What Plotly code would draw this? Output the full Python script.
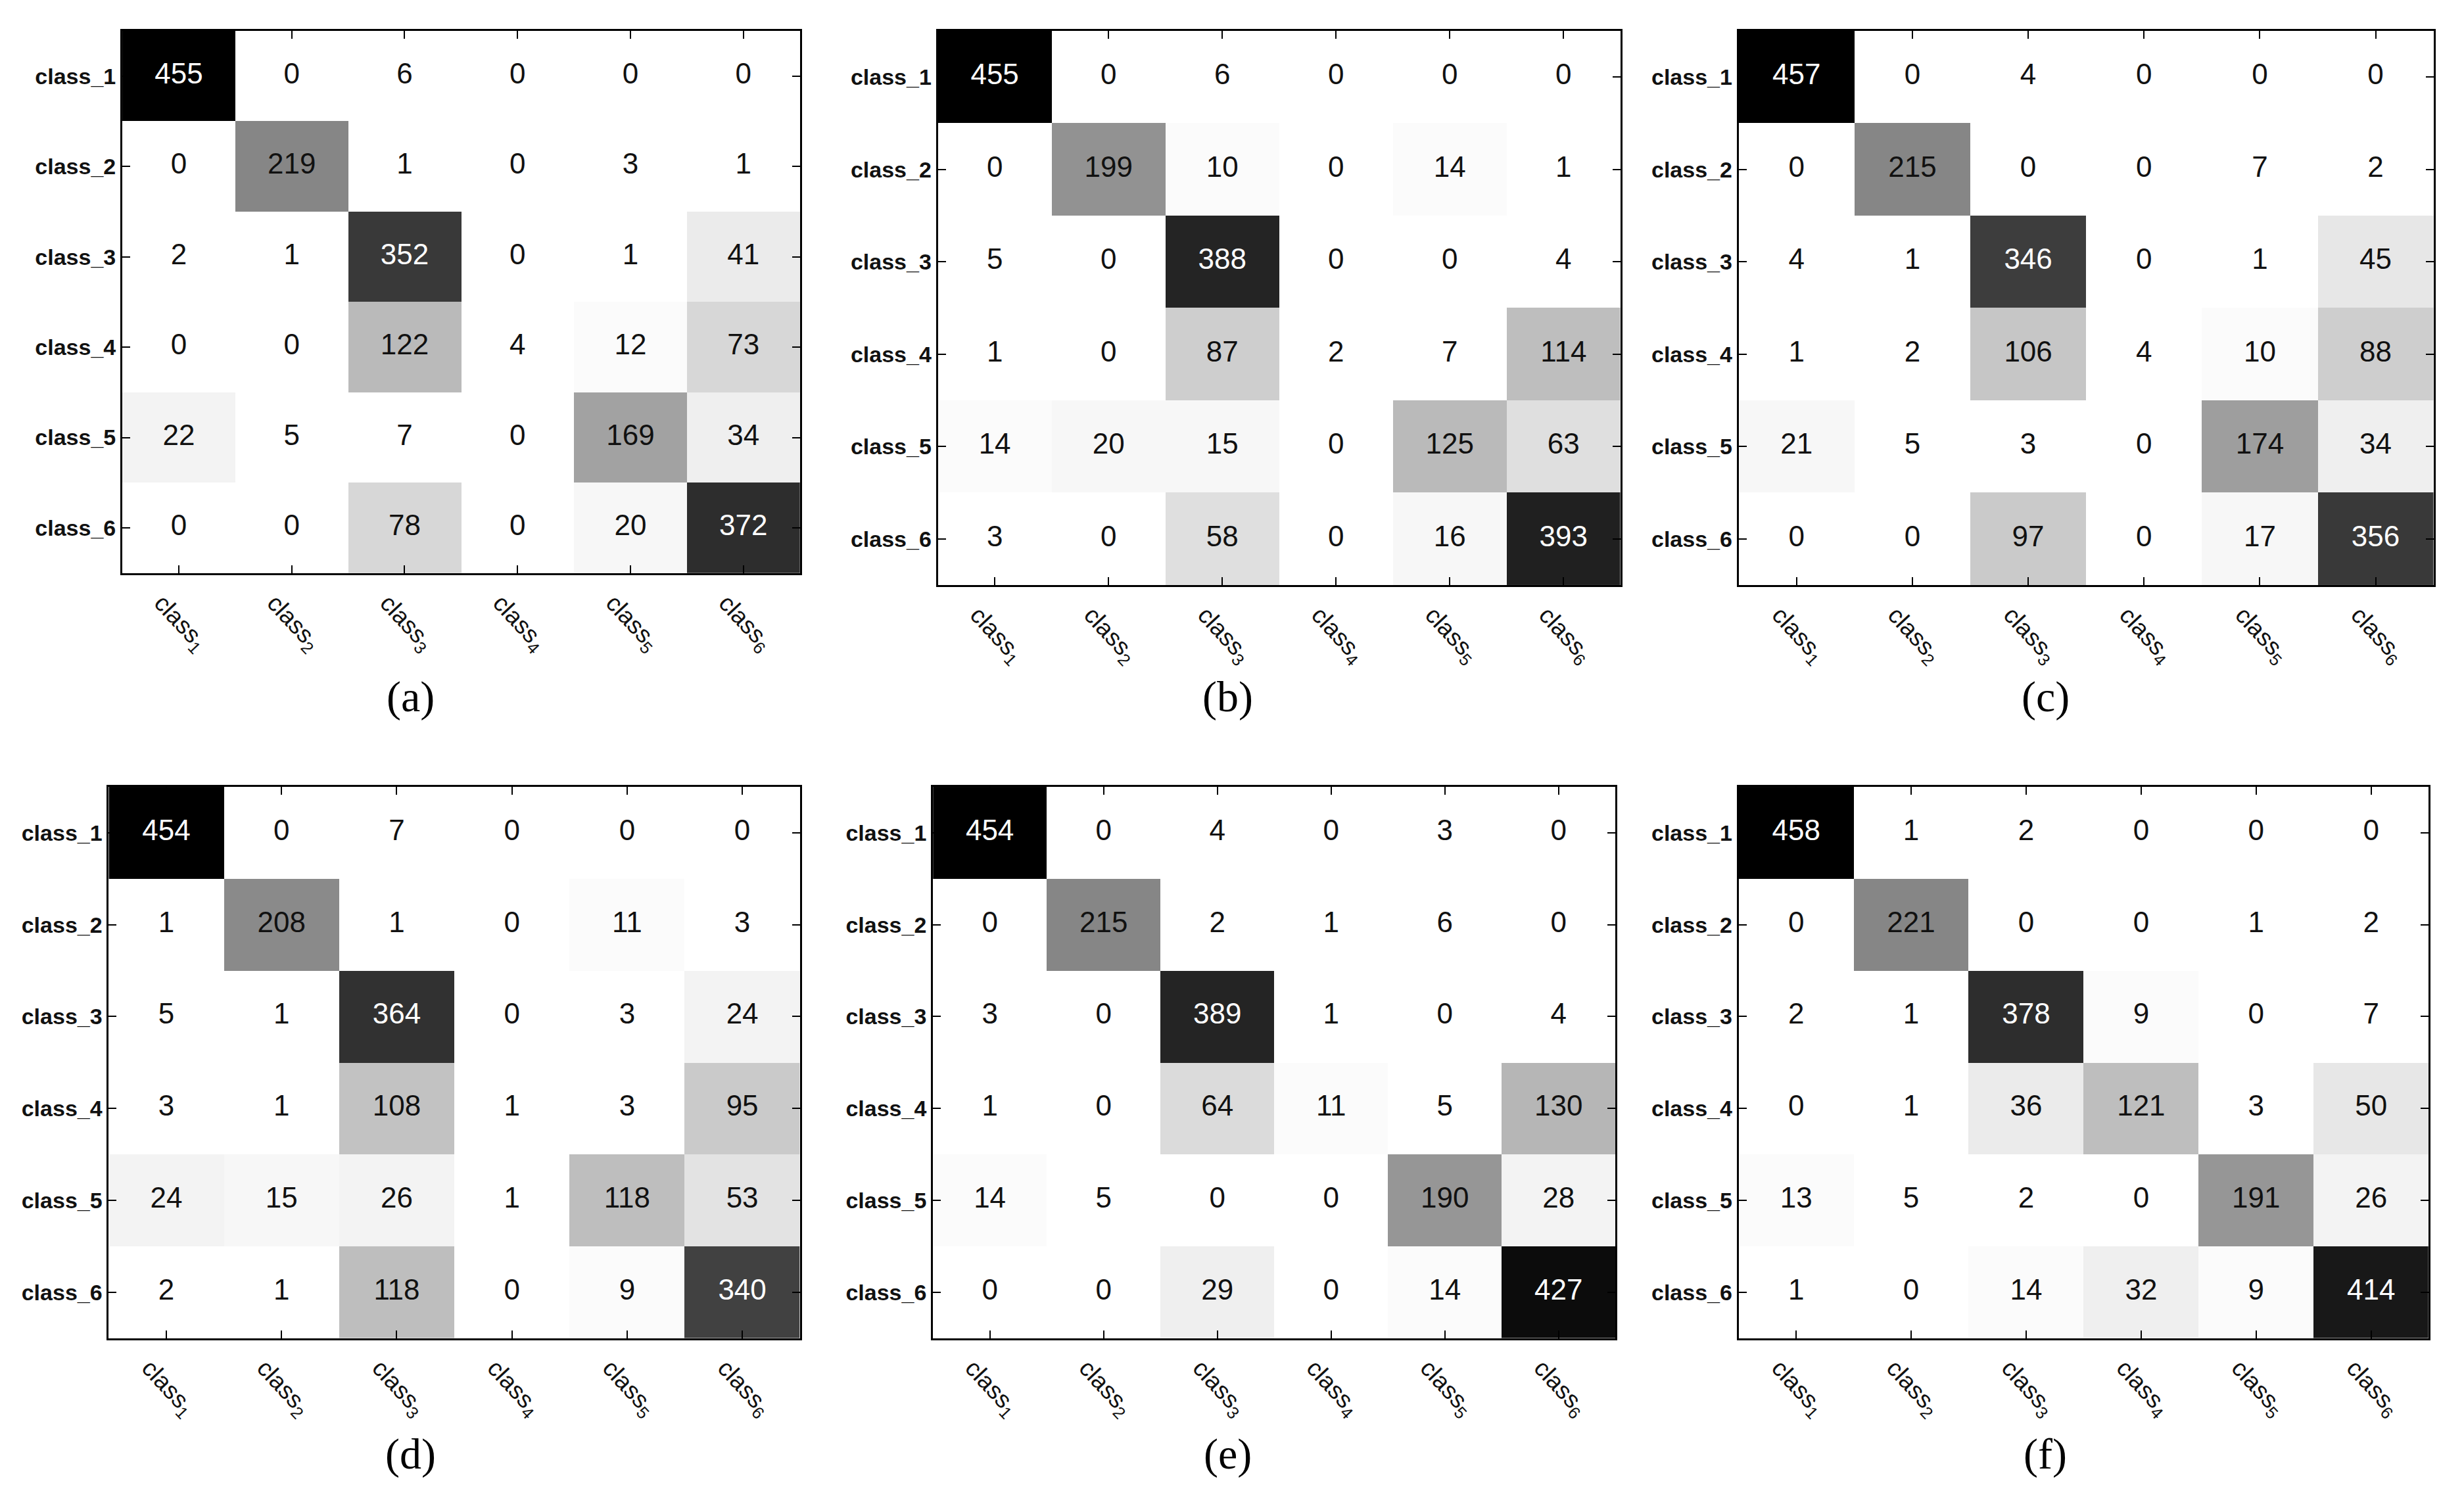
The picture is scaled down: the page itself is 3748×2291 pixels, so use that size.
import plotly.graph_objects as go

# class labels
y_labels = ['class_1', 'class_2', 'class_3', 'class_4', 'class_5', 'class_6']
x_labels = ['class<sub>1</sub>', 'class<sub>2</sub>', 'class<sub>3</sub>',
            'class<sub>4</sub>', 'class<sub>5</sub>', 'class<sub>6</sub>']

# confusion matrices, rows = true class, columns = predicted class
cm_a = [[455, 0, 6, 0, 0, 0],
        [0, 219, 1, 0, 3, 1],
        [2, 1, 352, 0, 1, 41],
        [0, 0, 122, 4, 12, 73],
        [22, 5, 7, 0, 169, 34],
        [0, 0, 78, 0, 20, 372]]
cm_b = [[455, 0, 6, 0, 0, 0],
        [0, 199, 10, 0, 14, 1],
        [5, 0, 388, 0, 0, 4],
        [1, 0, 87, 2, 7, 114],
        [14, 20, 15, 0, 125, 63],
        [3, 0, 58, 0, 16, 393]]
cm_c = [[457, 0, 4, 0, 0, 0],
        [0, 215, 0, 0, 7, 2],
        [4, 1, 346, 0, 1, 45],
        [1, 2, 106, 4, 10, 88],
        [21, 5, 3, 0, 174, 34],
        [0, 0, 97, 0, 17, 356]]
cm_d = [[454, 0, 7, 0, 0, 0],
        [1, 208, 1, 0, 11, 3],
        [5, 1, 364, 0, 3, 24],
        [3, 1, 108, 1, 3, 95],
        [24, 15, 26, 1, 118, 53],
        [2, 1, 118, 0, 9, 340]]
cm_e = [[454, 0, 4, 0, 3, 0],
        [0, 215, 2, 1, 6, 0],
        [3, 0, 389, 1, 0, 4],
        [1, 0, 64, 11, 5, 130],
        [14, 5, 0, 0, 190, 28],
        [0, 0, 29, 0, 14, 427]]
cm_f = [[458, 1, 2, 0, 0, 0],
        [0, 221, 0, 0, 1, 2],
        [2, 1, 378, 9, 0, 7],
        [0, 1, 36, 121, 3, 50],
        [13, 5, 2, 0, 191, 26],
        [1, 0, 14, 32, 9, 414]]

panels = [('(a)', cm_a), ('(b)', cm_b), ('(c)', cm_c),
          ('(d)', cm_d), ('(e)', cm_e), ('(f)', cm_f)]

# plot areas in paper fractions: (x0, x1, y0, y1)
domains = [
    (0.0475, 0.3225, 0.623, 0.983),
    (0.3785, 0.6555, 0.615, 0.983),
    (0.7035, 0.9855, 0.615, 0.983),
    (0.042, 0.3225, 0.115, 0.481),
    (0.3765, 0.6535, 0.115, 0.481),
    (0.7035, 0.9835, 0.115, 0.481),
]
label_x = [0.1645, 0.496, 0.828, 0.1645, 0.496, 0.828]
label_y = [0.541, 0.541, 0.541, 0.038, 0.038, 0.038]

# stepped grey colormap, 64 levels like MATLAB's flipud(gray)
levels = 64
grey_scale = []
for k in range(levels):
    g = round(255 * (1 - k / (levels - 1)))
    col = f'rgb({g},{g},{g})'
    grey_scale.append([k / levels, col])
    grey_scale.append([(k + 1) / levels, col])

fig = go.Figure()
layout = {}
annotations = []

for i, (name, cm) in enumerate(panels):
    n = '' if i == 0 else str(i + 1)
    xa, ya = 'x' + n, 'y' + n
    zmax = max(max(r) for r in cm)

    fig.add_trace(go.Heatmap(
        z=cm, x=x_labels, y=y_labels,
        xaxis=xa, yaxis=ya,
        colorscale=grey_scale,
        zmin=0, zmax=zmax, showscale=False,
        xgap=0, ygap=0,
    ))

    # cell numbers, white on dark cells
    for dark in (False, True):
        xs, ys, ts = [], [], []
        for r, row in enumerate(cm):
            for c, v in enumerate(row):
                if (v / zmax > 0.6) == dark:
                    xs.append(x_labels[c])
                    ys.append(y_labels[r])
                    ts.append(str(v))
        fig.add_trace(go.Scatter(
            x=xs, y=ys, text=ts, mode='text',
            textfont=dict(family='Liberation Sans, Arial', size=44,
                          color='white' if dark else '#111111'),
            xaxis=xa, yaxis=ya, showlegend=False, hoverinfo='skip',
        ))

    x0, x1, y0, y1 = domains[i]
    layout['xaxis' + n] = dict(
        domain=[x0, x1], anchor=ya,
        type='category', categoryorder='array', categoryarray=x_labels,
        showline=True, linecolor='black', linewidth=3, mirror='ticks',
        ticks='inside', ticklen=12, tickwidth=2, tickcolor='black',
        tickangle=47, showgrid=False, zeroline=False,
        tickfont=dict(family='Liberation Sans, Arial', size=37, color='#111111'),
        ticklabelstandoff=6, ticklabelshift=-26,
    )
    layout['yaxis' + n] = dict(
        domain=[y0, y1], anchor=xa,
        type='category', categoryorder='array', categoryarray=y_labels,
        autorange='reversed',
        showline=True, linecolor='black', linewidth=3, mirror='ticks',
        ticks='inside', ticklen=12, tickwidth=2, tickcolor='black',
        showgrid=False, zeroline=False,
        tickfont=dict(family='Liberation Sans, Arial', size=34, color='#111111',
                      weight='bold'),
        ticklabelstandoff=0,
    )
    annotations.append(dict(
        text=name, xref='paper', yref='paper',
        x=label_x[i], y=label_y[i],
        showarrow=False, xanchor='center', yanchor='middle',
        font=dict(family='Liberation Serif, Times New Roman', size=66, color='black'),
    ))

fig.update_layout(
    width=3748, height=2291,
    margin=dict(l=0, r=0, t=0, b=0),
    paper_bgcolor='white', plot_bgcolor='white',
    showlegend=False,
    annotations=annotations,
    **layout,
)

fig.write_html("out.html")
